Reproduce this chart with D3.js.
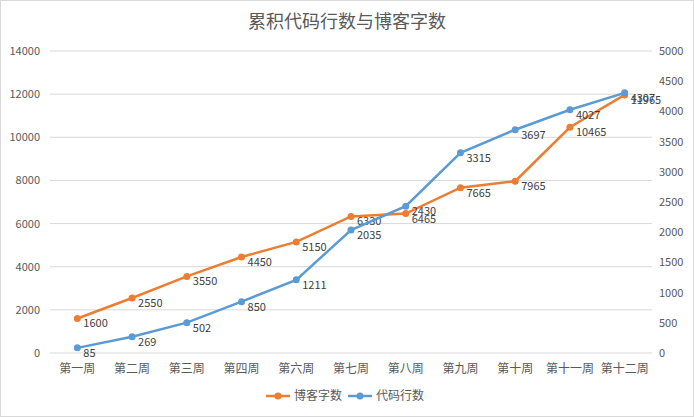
<!DOCTYPE html>
<html><head><meta charset="utf-8">
<script src="https://cdn.jsdelivr.net/npm/d3@7"></script>
<style>body{margin:0;background:#fff;font-family:"Noto Sans CJK SC","Noto Sans",sans-serif}</style>
</head><body><div id="chart"></div>
<script>
var weeks = ['第一周','第二周','第三周','第四周','第六周','第七周','第八周','第九周','第十周','第十一周','第十二周'];
var blogWords = [1600,2550,3550,4450,5150,6330,6465,7665,7965,10465,11965];
var codeLines = [85,269,502,850,1211,2035,2430,3315,3697,4027,4307];
var leftTicks = [0,2000,4000,6000,8000,10000,12000,14000];
var rightTicks = [0,500,1000,1500,2000,2500,3000,3500,4000,4500,5000];

(function() {
var W = 694, H = 417, pl = 50, pr = 652, pt = 51, pb = 353;
var svg = d3.select('#chart').append('svg').attr('width', W).attr('height', H);
svg.append('rect').attr('x',0.5).attr('y',0.5).attr('width',W-1).attr('height',H-1)
  .attr('fill','#fff').attr('stroke','#d9d9d9');

var x = d3.scaleBand().domain(weeks).range([pl, pr]);
var yL = d3.scaleLinear().domain([0,14000]).range([pb, pt]);
var yR = d3.scaleLinear().domain([0,5000]).range([pb, pt]);
var cx = function(d, i) { return x(weeks[i]) + x.bandwidth()/2; };

svg.append('text').attr('x', W/2).attr('y', 28).attr('text-anchor','middle')
  .attr('font-size', 18).attr('fill','#595959').text('累积代码行数与博客字数');

svg.selectAll('.grid').data(leftTicks).enter().append('line')
  .attr('x1', pl).attr('x2', pr).attr('y1', yL).attr('y2', yL)
  .attr('stroke', '#d9d9d9');

var tc = '#595959';
svg.selectAll('.lt').data(leftTicks).enter().append('text')
  .attr('x', 40).attr('y', function(d){ return yL(d)+4; }).attr('text-anchor','end')
  .attr('font-size', 11).attr('fill', tc).text(function(d){ return d; });
svg.selectAll('.rt').data(rightTicks).enter().append('text')
  .attr('x', 659).attr('y', function(d){ return yR(d)+4; })
  .attr('font-size', 11).attr('fill', tc).text(function(d){ return d; });
svg.selectAll('.xt').data(weeks).enter().append('text')
  .attr('x', function(d){ return x(d) + x.bandwidth()/2; }).attr('y', 373)
  .attr('text-anchor','middle').attr('font-size', 12).attr('fill', tc).text(function(d){ return d; });

function series(vals, y, color) {
  svg.append('path').datum(vals)
    .attr('d', d3.line().x(cx).y(function(d){ return y(d); }))
    .attr('fill','none').attr('stroke', color).attr('stroke-width', 2.5);
  svg.selectAll(null).data(vals).enter().append('circle')
    .attr('cx', cx).attr('cy', function(d){ return y(d); }).attr('r', 3.5).attr('fill', color);
  svg.selectAll(null).data(vals).enter().append('text')
    .attr('x', function(d,i){ return cx(d,i)+6; }).attr('y', function(d){ return y(d)+9; })
    .attr('font-size', 11).attr('fill', '#404040').text(function(d){ return d; });
}
series(blogWords, yL, '#ed7d31');
series(codeLines, yR, '#5b9bd5');

var legend = [['博客字数','#ed7d31',266],['代码行数','#5b9bd5',348]];
legend.forEach(function(l) {
  svg.append('line').attr('x1', l[2]).attr('x2', l[2]+24).attr('y1', 396).attr('y2', 396)
    .attr('stroke', l[1]).attr('stroke-width', 2.5);
  svg.append('circle').attr('cx', l[2]+12).attr('cy', 396).attr('r', 3.5).attr('fill', l[1]);
  svg.append('text').attr('x', l[2]+28).attr('y', 400).attr('font-size', 12).attr('fill', tc).text(l[0]);
});
})();
</script></body></html>
